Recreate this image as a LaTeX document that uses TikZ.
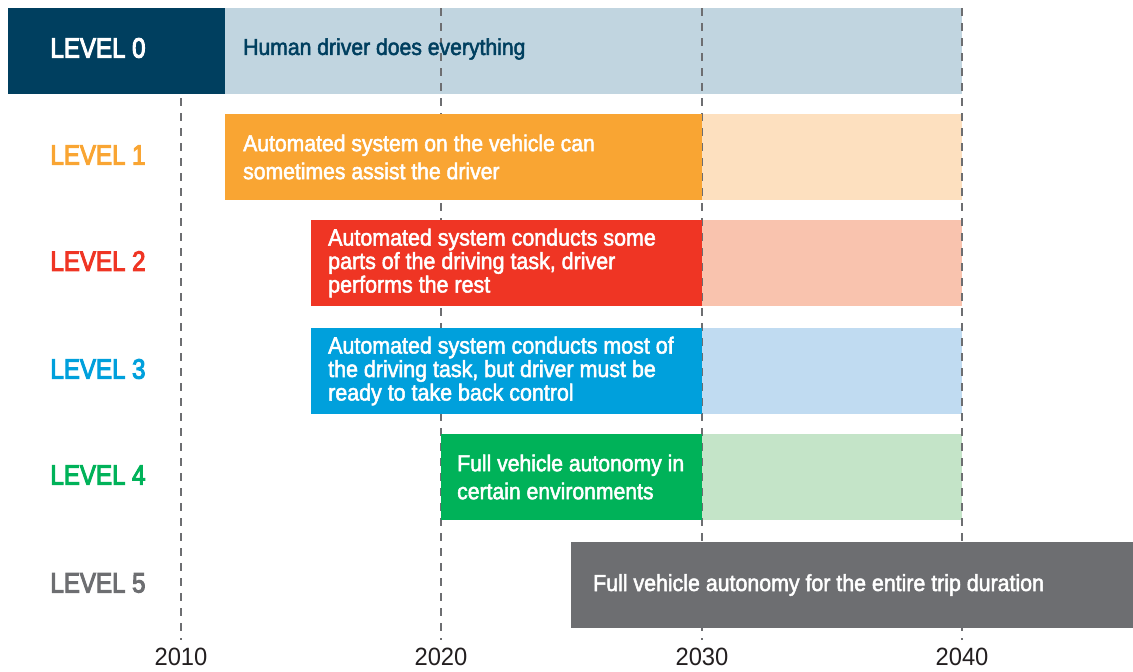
\documentclass[tikz,border=0pt]{standalone}
\usepackage{fontspec}
\setmainfont{Liberation Sans}[FakeStretch=0.92,FakeBold=2.2]
\newfontfamily\levelfont{Liberation Sans}[FakeStretch=0.86,FakeBold=3.6]
\newfontfamily\yearfont{Liberation Sans}[FakeStretch=0.95]
\usetikzlibrary{positioning}
\definecolor{navy}{HTML}{003F5F}
\definecolor{navylight}{HTML}{C1D5E0}
\definecolor{orange}{HTML}{F9A533}
\definecolor{orangelight}{HTML}{FDE0BF}
\definecolor{redbar}{HTML}{EF3524}
\definecolor{redlight}{HTML}{F9C3AE}
\definecolor{bluebar}{HTML}{00A0DC}
\definecolor{bluelight}{HTML}{C0DBF1}
\definecolor{greenbar}{HTML}{00B259}
\definecolor{greenlight}{HTML}{C4E4C8}
\definecolor{graybar}{HTML}{6D6E71}
\definecolor{yeartext}{HTML}{231F20}

\begin{document}
\begin{tikzpicture}[x=1pt,y=-1pt,
		bar/.style={rectangle,anchor=north west,inner sep=0pt,outer sep=0pt,minimum height=86pt},
		txt/.style={anchor=west,align=left,inner sep=0pt,text=white,font=\fontsize{23}{28}\selectfont},
		txtsmall/.style={txt,font=\fontsize{23.3}{23.5}\selectfont},
		lvl/.style={font=\levelfont\fontsize{28}{30}\selectfont},
		yearline/.style={draw=graybar,line width=2pt,dash pattern=on 8pt off 7pt}]
		\useasboundingbox (0,0) rectangle (1133,672);
		% light bars
		\node[bar,fill=navylight,minimum width=737pt] (l0bar) at (225,8) {};
		\node[bar,fill=orangelight,minimum width=260pt] (l1rest) at (702,114) {};
		\node[bar,fill=redlight,minimum width=260pt] (l2rest) at (702,220) {};
		\node[bar,fill=bluelight,minimum width=260pt] (l3rest) at (702,328) {};
		\node[bar,fill=greenlight,minimum width=260pt] (l4rest) at (702,434) {};
		% year lines
		\foreach \yx/\yl in {181/2010,441/2020,702/2030,962/2040} {
			\coordinate (top\yl) at (\yx,8);
			\coordinate (bot\yl) at (\yx,640);
			\draw[yearline] (top\yl) -- (bot\yl);
			\node[text=yeartext,font=\yearfont\fontsize{25}{28}\selectfont] (y\yl) at (\yx,657) {\yl};
		}
		% solid bars
		\node[bar,fill=navy,minimum width=217pt] (l0head) at (8,8) {};
		\node[bar,fill=orange,minimum width=477pt] (l1bar) at (225,114) {};
		\node[bar,fill=redbar,minimum width=391pt] (l2bar) at (311,220) {};
		\node[bar,fill=bluebar,minimum width=391pt] (l3bar) at (311,328) {};
		\node[bar,fill=greenbar,minimum width=261pt] (l4bar) at (441,434) {};
		\node[bar,fill=graybar,minimum width=562pt] (l5bar) at (571,542) {};
		% level names
		\node[lvl,text=white] (l0name) at (98,48) {LEVEL 0};
		\node[lvl,text=orange] (l1name) at (98,155) {LEVEL 1};
		\node[lvl,text=redbar] (l2name) at (98,261) {LEVEL 2};
		\node[lvl,text=bluebar] (l3name) at (98,369) {LEVEL 3};
		\node[lvl,text=greenbar] (l4name) at (98,475) {LEVEL 4};
		\node[lvl,text=graybar] (l5name) at (98,583) {LEVEL 5};
		% texts
		\node[txt,text=navy,right=18pt of l0bar.west,yshift=2pt] (l0txt) {Human driver does everything};
		\node[txt,right=18pt of l1bar.west] (l1txt) {Automated system on the vehicle can\\sometimes assist the driver};
		\node[txtsmall,right=17pt of l2bar.west] (l2txt) {Automated system conducts some\\parts of the driving task, driver\\performs the rest};
		\node[txtsmall,right=17pt of l3bar.west] (l3txt) {Automated system conducts most of\\the driving task, but driver must be\\ready to take back control};
		\node[txt,right=16pt of l4bar.west] (l4txt) {Full vehicle autonomy in\\certain environments};
		\node[txt,font=\fontsize{23.2}{28}\selectfont,right=22pt of l5bar.west] (l5txt) {Full vehicle autonomy for the entire trip duration};
	\end{tikzpicture}
\end{document}
